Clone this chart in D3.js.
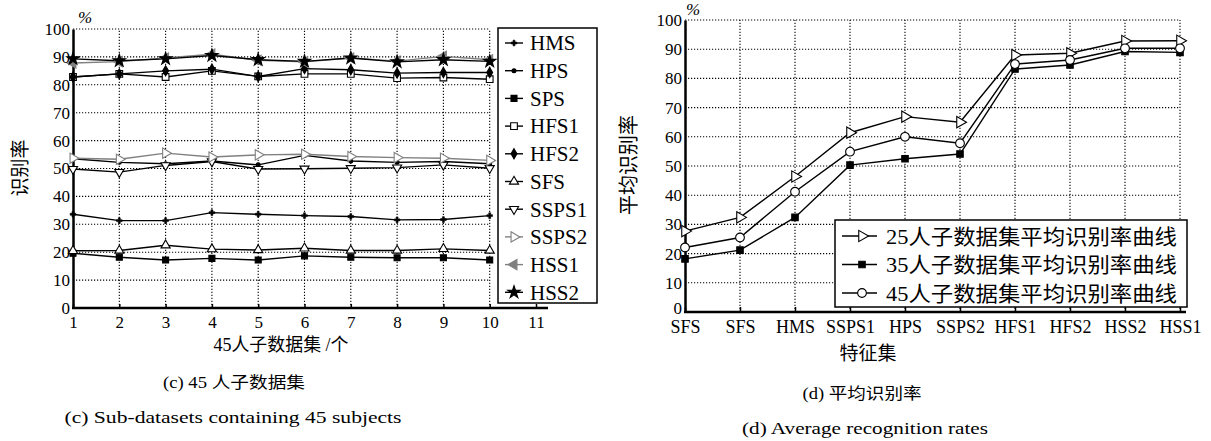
<!DOCTYPE html>
<html><head><meta charset="utf-8">
<script src="https://cdn.jsdelivr.net/npm/d3@7"></script>
<style>
body{margin:0;background:#fff;}
text{font-family:"Liberation Serif","Noto Sans CJK SC",serif;fill:#000;}
.cjk{font-family:"Liberation Serif","Noto Sans CJK SC",sans-serif;}
</style></head>
<body>
<svg id="c" width="1211" height="441"></svg>
<script>
// ---------- Data: left chart (c) ----------
const leftX = [1,2,3,4,5,6,7,8,9,10];
const leftTicksX = [1,2,3,4,5,6,7,8,9,10,11];
const yTicks = [0,10,20,30,40,50,60,70,80,90,100];
const HMS   = [33.6,31.3,31.3,34.2,33.6,33.1,32.8,31.6,31.7,33.1];
const HPS   = [53.5,52.2,51.7,52.7,51.3,54.7,52.7,52.2,52.5,51.7];
const SPS   = [19.6,18.2,17.2,17.8,17.2,18.7,18.2,18.0,18.0,17.2];
const HFS1  = [82.8,83.9,82.8,85.0,83.0,83.9,83.9,82.4,82.6,82.0];
const HFS2  = [82.8,83.9,85.0,85.6,83.0,85.8,85.4,84.2,84.4,84.4];
const SFS   = [20.5,20.6,22.5,21.1,20.8,21.4,20.6,20.6,21.2,20.6];
const SSPS1 = [49.8,48.7,51.1,52.5,49.8,49.9,50.1,50.3,51.3,50.1];
const SSPS2 = [53.7,53.3,55.5,54.1,54.9,55.1,54.3,53.9,53.7,52.9];
const HSS1  = [87.8,88.3,89.6,91.0,88.8,88.2,89.6,88.5,90.2,89.0];
const HSS2  = [89.3,88.6,89.3,90.5,89.0,88.4,89.6,88.2,89.0,88.4];
const leftNames = ["HMS","HPS","SPS","HFS1","HFS2","SFS","SSPS1","SSPS2","HSS1","HSS2"];

// ---------- Data: right chart (d) ----------
const cats = ["SFS","SFS","HMS","SSPS1","HPS","SSPS2","HFS1","HFS2","HSS2","HSS1"];
const r25 = [27.7,32.4,46.4,61.4,66.9,65.0,88.0,88.6,92.8,92.9];
const r35 = [18.2,21.2,32.4,50.3,52.5,54.1,83.2,84.6,89.2,88.9];
const r45 = [22.1,25.5,41.2,54.9,60.0,57.8,84.9,86.3,90.3,90.3];
const rightNames = ["25人子数据集平均识别率曲线","35人子数据集平均识别率曲线","45人子数据集平均识别率曲线"];

const svg = d3.select("#c");
const GRAY = "#808080";

function sym(type, size, rot){ return {path: d3.symbol().type(type).size(size)(), rot: rot||0}; }

const leftStyles = [
  {color:"#000", m: sym(d3.symbolCross,18), fill:"#000", sw:0.6},
  {color:"#000", m: sym(d3.symbolCircle,12), fill:"#000"},
  {color:"#000", m: sym(d3.symbolSquare,36), fill:"#000"},
  {color:"#000", m: sym(d3.symbolSquare,45), fill:"#fff"},
  {color:"#000", m: sym(d3.symbolDiamond,30), fill:"#000"},
  {color:"#000", m: sym(d3.symbolTriangle,36), fill:"#fff"},
  {color:"#000", m: sym(d3.symbolTriangle,36,180), fill:"#fff"},
  {color:GRAY, m: sym(d3.symbolTriangle,45,90), fill:"#fff"},
  {color:GRAY, m: sym(d3.symbolTriangle,45,-90), fill:GRAY},
  {color:"#000", m: sym(d3.symbolStar,48), fill:"#000"}
];
const leftSeries = [HMS,HPS,SPS,HFS1,HFS2,SFS,SSPS1,SSPS2,HSS1,HSS2];

function drawMarker(g, st, x, y){
  g.append("path").attr("d", st.m.path)
    .attr("transform", `translate(${x},${y}) rotate(${st.m.rot})`)
    .attr("fill", st.fill).attr("stroke", st.color).attr("stroke-width", st.sw||1.1);
}

// ================= LEFT CHART =================
{
  const x = d3.scaleLinear().domain([1,11]).range([73,536]);
  const y = d3.scaleLinear().domain([0,100]).range([308,29]);
  const g = svg.append("g");
  g.selectAll(".hg").data(yTicks.filter(d=>d>0)).join("line")
    .attr("x1", x(1)).attr("x2", x(10)).attr("y1", d=>y(d)).attr("y2", d=>y(d))
    .attr("stroke","#000").attr("stroke-width",1.1).attr("stroke-dasharray","1.2,1.8");
  g.selectAll(".vg").data(leftX.filter(d=>d>1)).join("line")
    .attr("x1", d=>x(d)).attr("x2", d=>x(d)).attr("y1", y(0)).attr("y2", y(100))
    .attr("stroke","#000").attr("stroke-width",1.1).attr("stroke-dasharray","1.2,1.8");
  const ax = d3.axisBottom(x).tickValues(leftTicksX).tickSizeInner(-4).tickSizeOuter(0).tickPadding(8);
  const gx = g.append("g").attr("transform",`translate(0,${y(0)})`).call(ax);
  gx.select(".domain").remove();
  gx.selectAll("line").attr("stroke-width",1.5);
  gx.selectAll("text").attr("font-size",17);
  g.append("line").attr("x1",x(1)-1).attr("x2",x(11)+12).attr("y1",y(0)).attr("y2",y(0))
    .attr("stroke","#000").attr("stroke-width",2.5);
  const ay = d3.axisLeft(y).tickValues(yTicks).tickSize(0).tickPadding(3);
  const gy = g.append("g").attr("transform",`translate(${x(1)},0)`).call(ay);
  gy.select(".domain").attr("stroke-width",2.5);
  gy.selectAll("text").attr("font-size",17);

  const line = d3.line().x((d,i)=>x(leftX[i])).y(d=>y(d));
  leftSeries.forEach((s,k)=>{
    const st = leftStyles[k];
    g.append("path").datum(s).attr("d", line).attr("fill","none")
      .attr("stroke", st.color).attr("stroke-width",1.4);
  });
  leftSeries.forEach((s,k)=>{
    const st = leftStyles[k];
    s.forEach((v,i)=>drawMarker(g, st, x(leftX[i]), y(v)));
  });

  const lg = g.append("g");
  lg.append("rect").attr("x",498).attr("y",28).attr("width",99).attr("height",275)
    .attr("fill","#fff").attr("stroke","#000").attr("stroke-width",1.5);
  leftNames.forEach((n,k)=>{
    const yy = 43 + k*27.7;
    const st = leftStyles[k];
    lg.append("line").attr("x1",505).attr("x2",523).attr("y1",yy).attr("y2",yy)
      .attr("stroke",st.color).attr("stroke-width",1.4);
    drawMarker(lg, st, 514, yy);
    lg.append("text").attr("x",530).attr("y",yy).attr("dy","0.35em")
      .attr("font-size",21).text(n);
  });

  g.append("text").attr("x",85).attr("y",23).attr("text-anchor","middle")
    .attr("font-size",17).attr("font-style","italic").text("%");
  g.append("text").attr("transform","translate(27,168) rotate(-90)").attr("text-anchor","middle")
    .attr("class","cjk").attr("font-size",19).text("识别率");
  g.append("text").attr("x",281).attr("y",351).attr("text-anchor","middle")
    .attr("class","cjk").attr("font-size",18).attr("textLength",135).attr("lengthAdjust","spacingAndGlyphs").text("45人子数据集 /个");
  g.append("text").attr("x",234).attr("y",388).attr("text-anchor","middle")
    .attr("class","cjk").attr("font-size",16).attr("textLength",142).attr("lengthAdjust","spacingAndGlyphs").text("(c) 45 人子数据集");
  g.append("text").attr("x",233).attr("y",423).attr("text-anchor","middle")
    .attr("font-size",17).attr("textLength",337).attr("lengthAdjust","spacingAndGlyphs").text("(c) Sub-datasets containing 45 subjects");
}

// ================= RIGHT CHART =================
{
  const idx = d3.range(cats.length);
  const x = d3.scalePoint().domain(idx).range([685,1180]);
  const y = d3.scaleLinear().domain([0,100]).range([312,20]);
  const g = svg.append("g");
  g.selectAll(".hg").data(yTicks.filter(d=>d>0)).join("line")
    .attr("x1", x(0)).attr("x2", x(9)).attr("y1", d=>y(d)).attr("y2", d=>y(d))
    .attr("stroke","#000").attr("stroke-width",1.1).attr("stroke-dasharray","1.2,1.8");
  g.selectAll(".vg").data(idx.filter(d=>d>0)).join("line")
    .attr("x1", d=>x(d)).attr("x2", d=>x(d)).attr("y1", y(0)).attr("y2", y(100))
    .attr("stroke","#000").attr("stroke-width",1.1).attr("stroke-dasharray","1.2,1.8");

  const ax = d3.axisBottom(x).tickFormat(i=>cats[i]).tickSizeInner(-5).tickSizeOuter(0).tickPadding(8);
  const gx = g.append("g").attr("transform",`translate(0,${y(0)})`).call(ax);
  gx.select(".domain").remove();
  gx.selectAll("line").attr("stroke-width",1.5);
  gx.selectAll("text").attr("font-size",18);
  g.append("line").attr("x1",x(0)-1).attr("x2",x(9)+6).attr("y1",y(0)).attr("y2",y(0))
    .attr("stroke","#000").attr("stroke-width",2.5);
  const ay = d3.axisLeft(y).tickValues(yTicks).tickSize(0).tickPadding(3);
  const gy = g.append("g").attr("transform",`translate(${x(0)},0)`).call(ay);
  gy.select(".domain").attr("stroke-width",2.5);
  gy.selectAll("text").attr("font-size",17);
  gy.selectAll(".tick").filter(d=>d===0).select("text").attr("dy","0.1em");

  const styles = [
    {color:"#000", m: sym(d3.symbolTriangle,55,90), fill:"#fff"},
    {color:"#000", m: sym(d3.symbolSquare,42), fill:"#000"},
    {color:"#000", m: sym(d3.symbolCircle,60), fill:"#fff"}
  ];
  const series = [r25,r35,r45];
  const line = d3.line().x((d,i)=>x(i)).y(d=>y(d));
  series.forEach((s,k)=>{
    g.append("path").datum(s).attr("d",line).attr("fill","none").attr("stroke","#000").attr("stroke-width",1.4);
  });
  series.forEach((s,k)=>{
    s.forEach((v,i)=>drawMarker(g, styles[k], x(i), y(v)));
  });

  const lg = g.append("g");
  lg.append("rect").attr("x",835).attr("y",220).attr("width",352).attr("height",87)
    .attr("fill","#fff").attr("stroke","#000").attr("stroke-width",1.5);
  rightNames.forEach((n,k)=>{
    const yy = 236 + k*28.5;
    lg.append("line").attr("x1",842).attr("x2",877).attr("y1",yy).attr("y2",yy)
      .attr("stroke","#000").attr("stroke-width",1.4);
    drawMarker(lg, styles[k], 862, yy);
    lg.append("text").attr("x",886).attr("y",yy).attr("dy","0.36em")
      .attr("class","cjk").attr("font-size",21).attr("textLength",291).attr("lengthAdjust","spacingAndGlyphs").text(n);
  });

  g.append("text").attr("x",693).attr("y",15).attr("text-anchor","middle")
    .attr("font-size",17).attr("font-style","italic").text("%");
  g.append("text").attr("transform","translate(636,165) rotate(-90)").attr("text-anchor","middle")
    .attr("class","cjk").attr("font-size",20).text("平均识别率");
  g.append("text").attr("x",868).attr("y",360).attr("text-anchor","middle")
    .attr("class","cjk").attr("font-size",19).text("特征集");
  g.append("text").attr("x",862).attr("y",399).attr("text-anchor","middle")
    .attr("class","cjk").attr("font-size",16).attr("textLength",119).attr("lengthAdjust","spacingAndGlyphs").text("(d) 平均识别率");
  g.append("text").attr("x",865).attr("y",434).attr("text-anchor","middle")
    .attr("font-size",17).attr("textLength",246).attr("lengthAdjust","spacingAndGlyphs").text("(d) Average recognition rates");
}
</script>
</body></html>
